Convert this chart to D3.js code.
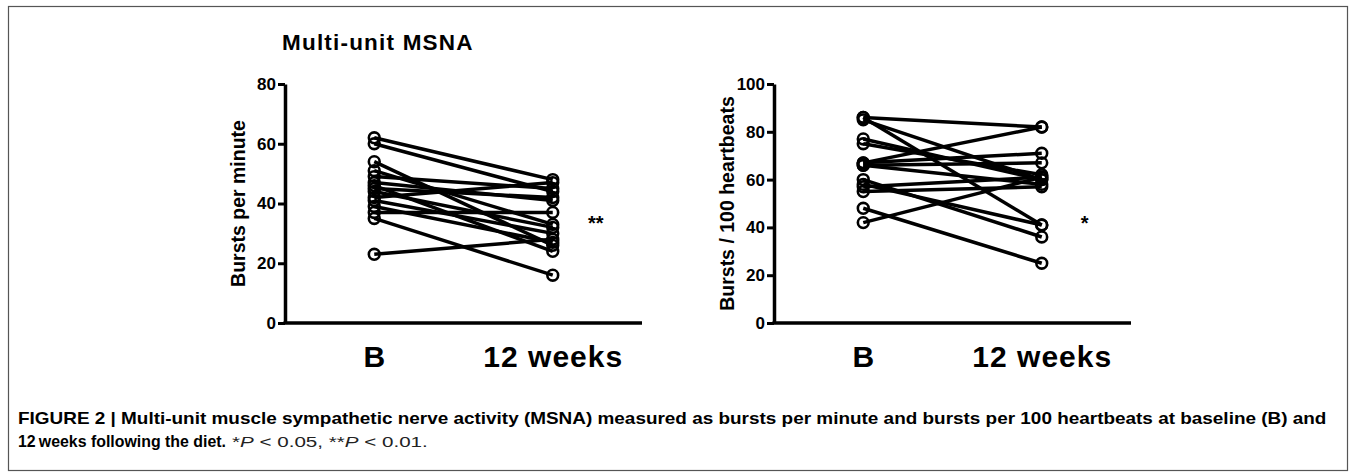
<!DOCTYPE html>
<html><head><meta charset="utf-8">
<script src="https://cdn.jsdelivr.net/npm/d3@7"></script>
<style>body{margin:0;background:#fff}svg{display:block}</style>
</head><body><svg id="c" width="1356" height="476"></svg>
<script>
const categories = ["B", "12 weeks"];
// Left panel: bursts per minute
const bpmBaseline = [62, 60, 54, 51, 49, 47, 46, 45, 44, 42, 41, 39, 37, 35, 23];
const bpmWeek12   = [48, 44, 26, 33, 45, 41, 24, 42, 32, 47, 30, 27, 37, 16, 28];
const bpmTicks = [0, 20, 40, 60, 80];
// Right panel: bursts per 100 heartbeats
const bhbBaseline = [86, 86, 85, 77, 75, 67, 67, 66, 66, 60, 58, 57, 55, 48, 42];
const bhbWeek12   = [82, 41, 60, 60, 62, 82, 71, 67, 58, 36, 41, 61, 57, 25, 61];
const bhbTicks = [0, 20, 40, 60, 80, 100];
const titleText = "Multi-unit MSNA";
const yLabels = ["Bursts per minute", "Bursts / 100 heartbeats"];
const sigMarks = ["**", "*"];

const svg = d3.select("#c");
const FONT = "'Liberation Sans', Arial, Helvetica, sans-serif";

// figure frame
svg.append("rect").attr("x", 8.5).attr("y", 6.5).attr("width", 1339).attr("height", 464)
  .attr("fill", "none").attr("stroke", "#555").attr("stroke-width", 1.2);

svg.append("text").attr("x", 282).attr("y", 50)
  .attr("font-family", FONT).attr("font-weight", "bold").attr("font-size", 22.5)
  .attr("letter-spacing", 1.2).text(titleText);

const panels = [
  {x0: 285, base: bpmBaseline, wk: bpmWeek12, ticks: bpmTicks, max: 80, label: yLabels[0], sig: sigMarks[0]},
  {x0: 774, base: bhbBaseline, wk: bhbWeek12, ticks: bhbTicks, max: 100, label: yLabels[1], sig: sigMarks[1]}
];
const W = 357, yTop = 84, yBot = 323;

panels.forEach(p => {
  const g = svg.append("g").attr("transform", `translate(${p.x0},0)`);
  const x = d3.scalePoint().domain(categories).range([0, W]).padding(0.5);
  const y = d3.scaleLinear().domain([0, p.max]).range([yBot, yTop]);

  // y axis
  const ya = g.append("g").call(d3.axisLeft(y).tickValues(p.ticks).tickSize(7).tickSizeOuter(0).tickPadding(2));
  ya.select(".domain").attr("stroke-width", 3.5).attr("stroke", "#000");
  ya.selectAll(".tick line").attr("stroke-width", 3).attr("stroke", "#000");
  ya.selectAll(".tick text").attr("font-family", FONT).attr("font-weight", "bold")
    .attr("font-size", 17).attr("fill", "#000");

  // x axis
  const xa = g.append("g").attr("transform", `translate(0,${yBot})`)
    .call(d3.axisBottom(x).tickSize(0).tickSizeOuter(0).tickPadding(23));
  xa.select(".domain").attr("stroke-width", 3.5).attr("stroke", "#000");
  xa.selectAll(".tick text").attr("font-family", FONT).attr("font-weight", "bold")
    .attr("font-size", 30).attr("letter-spacing", 1).attr("fill", "#000");
  xa.select(".domain").attr("d", `M-1.5,0H${W}`);

  // y label
  g.append("text").attr("transform", `translate(-47,${(yTop + yBot) / 2}) rotate(-90)`)
    .attr("text-anchor", "middle").attr("dominant-baseline", "central")
    .attr("font-family", FONT).attr("font-weight", "bold").attr("font-size", 19.5)
    .text(p.label);

  // subject lines
  const pairs = p.base.map((b, i) => [b, p.wk[i]]);
  const line = d3.line().x((d, i) => x(categories[i])).y(d => y(d));
  g.selectAll("path.subj").data(pairs).enter().append("path").attr("class", "subj")
    .attr("d", d => line(d)).attr("fill", "none").attr("stroke", "#000").attr("stroke-width", 3.5);
  const pts = [];
  pairs.forEach(d => d.forEach((v, i) => pts.push({c: categories[i], v})));
  g.selectAll("circle").data(pts).enter().append("circle")
    .attr("cx", d => x(d.c)).attr("cy", d => y(d.v)).attr("r", 5.4)
    .attr("fill", "none").attr("stroke", "#000").attr("stroke-width", 2.6);

  // significance
  g.append("text").attr("x", x(categories[1]) + 43).attr("y", 230)
    .attr("text-anchor", "middle").attr("font-family", FONT).attr("font-weight", "bold")
    .attr("font-size", 20).text(p.sig);
});

// caption (condensed look via horizontal scaling to the reference widths)
const capLine1 = "FIGURE 2 | Multi-unit muscle sympathetic nerve activity (MSNA) measured as bursts per minute and bursts per 100 heartbeats at baseline (B) and";
const capLine2a = "12\u2009weeks following the diet.";
const cap = svg.append("g");
const t1 = cap.append("text").attr("font-family", FONT).attr("font-size", 16).attr("font-weight", "bold").text(capLine1);
const sx1 = 1310 / t1.node().getComputedTextLength();
t1.attr("transform", `translate(18,424) scale(${sx1},1)`);
const t2 = cap.append("text").attr("font-family", FONT).attr("font-size", 16).attr("font-weight", "bold").text(capLine2a);
const sx2 = 208 / t2.node().getComputedTextLength();
t2.attr("transform", `translate(18,447) scale(${sx2},1)`);
const t3 = cap.append("text").attr("font-family", FONT).attr("font-size", 15.5).attr("fill", "#222");
t3.append("tspan").text("*");
t3.append("tspan").attr("font-style", "italic").text("P");
t3.append("tspan").text(" < 0.05, **");
t3.append("tspan").attr("font-style", "italic").text("P");
t3.append("tspan").text(" < 0.01.");
const sx3 = 196 / t3.node().getComputedTextLength();
t3.attr("transform", `translate(232,447) scale(${sx3},1)`);
</script>
</body></html>
